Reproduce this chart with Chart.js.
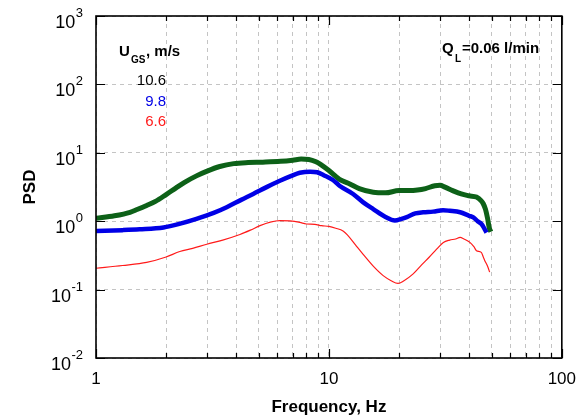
<!DOCTYPE html>
<html>
<head>
<meta charset="utf-8">
<script src="https://cdn.jsdelivr.net/npm/chart.js@4"></script>
<style>
  html, body { margin: 0; padding: 0; background: #fff; }
</style>
</head>
<body>
<canvas id="psdChart" width="587" height="419"></canvas>
<script>
// Data (frequency in Hz, PSD)
const freqGreen = [1.0, 1.2, 1.4, 1.5, 1.65, 1.8, 2.0, 2.2, 2.4, 2.7, 3.0, 3.4, 3.9, 4.5, 5.2, 6.2, 7.0, 7.6, 8.2, 8.8, 9.3, 10.0, 11.1, 12.3, 13.5, 15.5, 17.5, 20, 22, 24, 26, 28.5, 30, 31.5, 34, 37, 40, 43, 45, 46, 47, 48, 48.8, 49.6];
const psdGreen  = [1.10, 1.20, 1.35, 1.48, 1.70, 1.95, 2.45, 3.05, 3.7, 4.6, 5.4, 6.3, 6.95, 7.2, 7.3, 7.5, 7.8, 8.1, 8.0, 7.4, 6.6, 5.5, 4.1, 3.5, 3.0, 2.65, 2.6, 2.8, 2.8, 2.85, 3.0, 3.3, 3.35, 3.15, 2.8, 2.5, 2.35, 2.25, 2.0, 1.8, 1.5, 1.1, 0.8, 0.7];

const freqBlue = [1.0, 1.3, 1.54, 1.95, 2.3, 2.7, 3.2, 3.64, 4.2, 4.73, 5.4, 6.16, 6.9, 7.5, 8.3, 8.9, 9.5, 10.4, 11.1, 12.7, 14, 15.5, 17.5, 19.2, 20.5, 21.6, 23.5, 25.4, 28, 30.9, 33, 36.6, 40, 41.7, 43.5, 45.2, 46.5, 47.5];
const psdBlue  = [0.72, 0.74, 0.76, 0.81, 0.92, 1.08, 1.32, 1.6, 2.05, 2.5, 3.15, 3.9, 4.6, 5.1, 5.3, 5.2, 4.7, 4.0, 3.3, 2.5, 1.9, 1.5, 1.15, 1.02, 1.08, 1.15, 1.3, 1.35, 1.38, 1.45, 1.42, 1.35, 1.2, 1.14, 1.0, 0.91, 0.78, 0.68];

const freqRed = [1.0, 1.3, 1.65, 2.0, 2.29, 2.6, 2.99, 3.5, 4.15, 4.6, 5.06, 5.6, 6.16, 6.8, 7.5, 8.0, 8.7, 9.3, 10.0, 10.7, 11.5, 12.0, 13.0, 14.0, 15.5, 17.1, 18.5, 19.8, 21, 23, 25, 27, 29, 31, 33, 35, 36.6, 38, 40.3, 42, 43, 45.1, 46, 46.7, 48, 49];
const psdRed  = [0.205, 0.225, 0.25, 0.30, 0.36, 0.40, 0.46, 0.53, 0.64, 0.74, 0.86, 0.97, 1.02, 1.01, 0.96, 0.91, 0.90, 0.86, 0.84, 0.79, 0.72, 0.63, 0.45, 0.33, 0.22, 0.16, 0.135, 0.123, 0.135, 0.17, 0.23, 0.30, 0.39, 0.49, 0.53, 0.55, 0.58, 0.55, 0.49, 0.42, 0.37, 0.35, 0.30, 0.265, 0.22, 0.18];

const seriesLabels = ["10.6", "9.8", "6.6"];
const seriesColors = ["#0d6118", "#0000e6", "#ff1a1a"];
const legendTextColors = ["#000000", "#0000e6", "#ff1a1a"];

const xTickValues = [1, 2, 3, 4, 5, 6, 7, 8, 9, 10, 20, 30, 40, 50, 60, 70, 80, 90, 100];
const yTickValues = [0.01, 0.1, 1, 10, 100, 1000];
const yTickExponents = ["-2", "-1", "0", "1", "2", "3"];

function toPoints(xs, ys) {
  return xs.map((x, i) => ({ x: x, y: ys[i] }));
}

function isDecade(v) {
  const l = Math.log10(v);
  return Math.abs(l - Math.round(l)) < 1e-9;
}

// Frame, inward ticks, superscript y labels and the annotations
const decorPlugin = {
  id: "decor",
  afterDraw(chart) {
    const ctx = chart.ctx;
    const area = chart.chartArea;
    const xs = chart.scales.x;
    const ys = chart.scales.y;
    ctx.save();

    // inward ticks
    ctx.strokeStyle = "#000";
    ctx.lineWidth = 1.2;
    ctx.beginPath();
    xTickValues.forEach(v => {
      const px = Math.round(xs.getPixelForValue(v)) + 0.5;
      const len = isDecade(v) ? 9 : 5;
      ctx.moveTo(px, area.bottom); ctx.lineTo(px, area.bottom - len);
      ctx.moveTo(px, area.top); ctx.lineTo(px, area.top + len);
    });
    yTickValues.forEach(v => {
      const py = Math.round(ys.getPixelForValue(v)) + 0.5;
      ctx.moveTo(area.left, py); ctx.lineTo(area.left + 9, py);
      ctx.moveTo(area.right, py); ctx.lineTo(area.right - 9, py);
    });
    ctx.stroke();

    // frame
    ctx.lineWidth = 1.6;
    ctx.strokeRect(area.left, area.top, area.right - area.left, area.bottom - area.top);

    // y tick labels 10^n
    ctx.fillStyle = "#000";
    ctx.textBaseline = "alphabetic";
    yTickValues.forEach((v, i) => {
      const py = ys.getPixelForValue(v);
      ctx.font = "13px 'Liberation Sans', Arial, sans-serif";
      const ew = ctx.measureText(yTickExponents[i]).width;
      const expRight = 83;
      ctx.textAlign = "right";
      ctx.fillText(yTickExponents[i], expRight, py + 1);
      ctx.font = "18px 'Liberation Sans', Arial, sans-serif";
      ctx.fillText("10", expRight - ew - 0.5, py + 12);
    });

    // series legend
    ctx.textAlign = "left";
    ctx.font = "bold 15px 'Liberation Sans', Arial, sans-serif";
    ctx.fillText("U", 119, 56);
    ctx.font = "bold 10px 'Liberation Sans', Arial, sans-serif";
    ctx.fillText("GS", 131, 63);
    ctx.font = "bold 15px 'Liberation Sans', Arial, sans-serif";
    ctx.fillText(", m/s", 146, 56);

    ctx.textAlign = "right";
    ctx.font = "15px 'Liberation Sans', Arial, sans-serif";
    const legendY = [85, 106, 126];
    seriesLabels.forEach((lab, i) => {
      ctx.fillStyle = legendTextColors[i];
      ctx.fillText(lab, 166, legendY[i]);
    });

    // flow-rate annotation
    ctx.fillStyle = "#000";
    ctx.textAlign = "left";
    ctx.font = "bold 15px 'Liberation Sans', Arial, sans-serif";
    ctx.fillText("Q", 442, 53);
    ctx.font = "bold 10px 'Liberation Sans', Arial, sans-serif";
    ctx.fillText("L", 455, 62);
    ctx.font = "bold 15px 'Liberation Sans', Arial, sans-serif";
    ctx.fillText("=0.06 l/min", 462, 53);

    ctx.restore();
  }
};

new Chart(document.getElementById("psdChart"), {
  type: "line",
  data: {
    datasets: [
      { label: seriesLabels[2], data: toPoints(freqRed, psdRed), borderColor: seriesColors[2], borderWidth: 1.2, pointRadius: 0, cubicInterpolationMode: "monotone", fill: false },
      { label: seriesLabels[1], data: toPoints(freqBlue, psdBlue), borderColor: seriesColors[1], borderWidth: 4.5, pointRadius: 0, cubicInterpolationMode: "monotone", fill: false },
      { label: seriesLabels[0], data: toPoints(freqGreen, psdGreen), borderColor: seriesColors[0], borderWidth: 5, pointRadius: 0, cubicInterpolationMode: "monotone", fill: false }
    ]
  },
  options: {
    responsive: false,
    animation: false,
    layout: { padding: { top: 16, right: 24, left: 0, bottom: 0 } },
    plugins: {
      legend: { display: false },
      tooltip: { enabled: false }
    },
    scales: {
      x: {
        type: "logarithmic",
        min: 1,
        max: 100,
        afterBuildTicks: scale => { scale.ticks = xTickValues.map(v => ({ value: v })); },
        afterFit: scale => { scale.height = 61; },
        ticks: {
          autoSkip: false,
          maxRotation: 0,
          padding: 11,
          color: "#000",
          font: { family: "'Liberation Sans', Arial, sans-serif", size: 17 },
          callback: v => (isDecade(v) ? String(v) : "")
        },
        grid: { color: "#c4c4c4", lineWidth: 1, drawTicks: false },
        border: { display: false, dash: [4, 4] },
        title: {
          display: true,
          text: "Frequency, Hz",
          color: "#000",
          font: { family: "'Liberation Sans', Arial, sans-serif", size: 17, weight: "bold" },
          padding: { top: 0, bottom: 1 }
        }
      },
      y: {
        type: "logarithmic",
        min: 0.01,
        max: 1000,
        afterBuildTicks: scale => { scale.ticks = yTickValues.map(v => ({ value: v })); },
        afterFit: scale => { scale.width = 96; },
        ticks: { display: false },
        grid: { color: "#c4c4c4", lineWidth: 1, drawTicks: false },
        border: { display: false, dash: [4, 4] },
        title: {
          display: true,
          text: "PSD",
          color: "#000",
          font: { family: "'Liberation Sans', Arial, sans-serif", size: 17, weight: "bold" },
          padding: { top: 20, bottom: 0 }
        }
      }
    }
  },
  plugins: [decorPlugin]
});
</script>
</body>
</html>
